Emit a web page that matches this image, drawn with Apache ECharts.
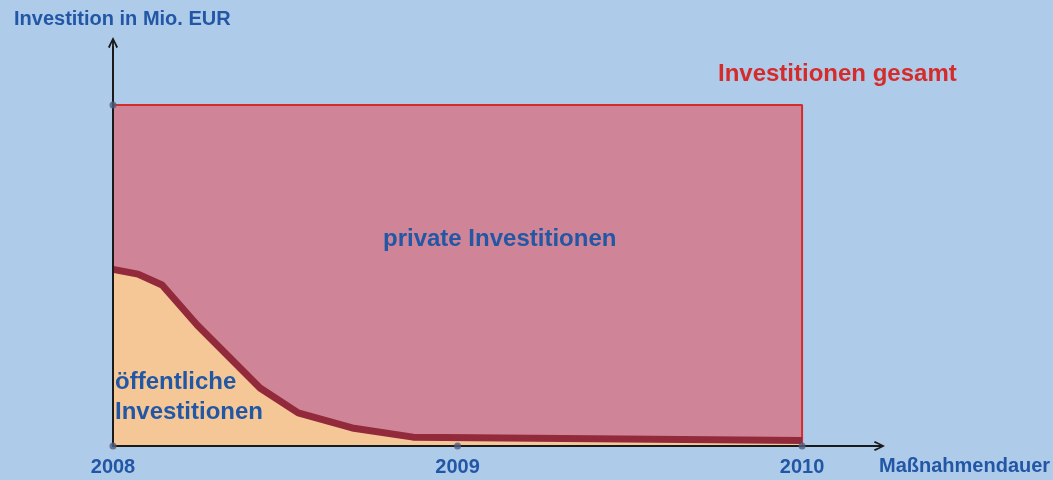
<!DOCTYPE html>
<html>
<head>
<meta charset="utf-8">
<script src="https://cdn.jsdelivr.net/npm/echarts@6/dist/echarts.min.js"></script>
<style>
  html, body { margin: 0; padding: 0; background: #afcbea; }
  #chart { width: 1053px; height: 480px; }
</style>
</head>
<body>
<div id="chart"></div>
<script>
// months since start of 2008
const yearTicks = [0, 12, 24];
const yearLabels = ['2008', '2009', '2010'];
// total investment (rectangle) and public investment curve
const totalMonths = [0, 0, 24, 24];
const totalValues = [0, 100, 100, 0];
const publicMonths = [0, 0.87, 1.71, 2.93, 5.12, 6.45, 8.33, 10.45, 24];
const publicValues = [51.8, 50.4, 47.2, 35.5, 17.0, 9.7, 5.3, 2.6, 1.6];
const dotMonths = [0, 0, 12, 24];
const dotValues = [0, 100, 0, 0];

const blue = '#2257a5';
const font = '"Liberation Sans", Arial, sans-serif';
const arrow = 'path://M0,10 L5,0 L10,10 L8.4,11.2 L5.9,5.5 L5.9,20 L4.1,20 L4.1,5.5 L1.6,11.2 Z';

const myChart = echarts.init(document.getElementById('chart'));
const option = {
  backgroundColor: '#afcbea',
  animation: false,
  grid: { left: 113, right: 178, top: 47, bottom: 34 },
  xAxis: {
    type: 'value',
    min: 0,
    max: 26.54,
    interval: 12,
    z: 5,
    axisLine: {
      show: true,
      symbol: ['none', arrow],
      symbolSize: [11, 20],
      lineStyle: { color: '#1a1a1a', width: 2 }
    },
    axisTick: { show: false },
    splitLine: { show: false },
    axisLabel: {
      margin: 11,
      color: blue,
      fontFamily: font,
      fontWeight: 'bold',
      fontSize: 20,
      showMaxLabel: false,
      formatter: (v) => {
        const i = yearTicks.indexOf(v);
        return i >= 0 ? yearLabels[i] : '';
      }
    }
  },
  yAxis: {
    type: 'value',
    min: 0,
    max: 117,
    z: 5,
    axisLine: {
      show: true,
      symbol: ['none', arrow],
      symbolSize: [11, 20],
      lineStyle: { color: '#1a1a1a', width: 2 }
    },
    axisTick: { show: false },
    axisLabel: { show: false },
    splitLine: { show: false }
  },
  series: [
    {
      name: 'Investitionen gesamt',
      type: 'line',
      symbol: 'none',
      data: totalMonths.map((m, i) => [m, totalValues[i]]),
      lineStyle: { color: '#d42b2b', width: 2 },
      areaStyle: { color: '#cf8597', opacity: 1 },
      z: 2
    },
    {
      name: 'öffentliche Investitionen',
      type: 'line',
      symbol: 'none',
      data: publicMonths.map((m, i) => [m, publicValues[i]]),
      lineStyle: { color: '#922a3c', width: 7, join: 'round', cap: 'butt' },
      areaStyle: { color: '#f5c797', opacity: 1 },
      z: 3
    },
    {
      type: 'scatter',
      symbolSize: 7,
      data: dotMonths.map((m, i) => [m, dotValues[i]]),
      itemStyle: { color: '#4f5d7e' },
      z: 6
    }
  ],
  graphic: [
    {
      type: 'text', left: 14, top: 9, z: 100,
      style: { text: 'Investition in Mio. EUR', fill: blue, font: 'bold 20px ' + font }
    },
    {
      type: 'text', left: 718, top: 62, z: 100,
      style: { text: 'Investitionen gesamt', fill: '#d42b2b', font: 'bold 24px ' + font }
    },
    {
      type: 'text', left: 383, top: 227, z: 100,
      style: { text: 'private Investitionen', fill: blue, font: 'bold 24px ' + font }
    },
    {
      type: 'text', left: 115, top: 367, z: 100,
      style: { text: 'öffentliche\nInvestitionen', fill: blue, font: 'bold 24px ' + font, lineHeight: 30 }
    },
    {
      type: 'text', left: 879, top: 456, z: 100,
      style: { text: 'Maßnahmendauer', fill: blue, font: 'bold 20px ' + font }
    }
  ]
};
option && myChart.setOption(option);
</script>
</body>
</html>
